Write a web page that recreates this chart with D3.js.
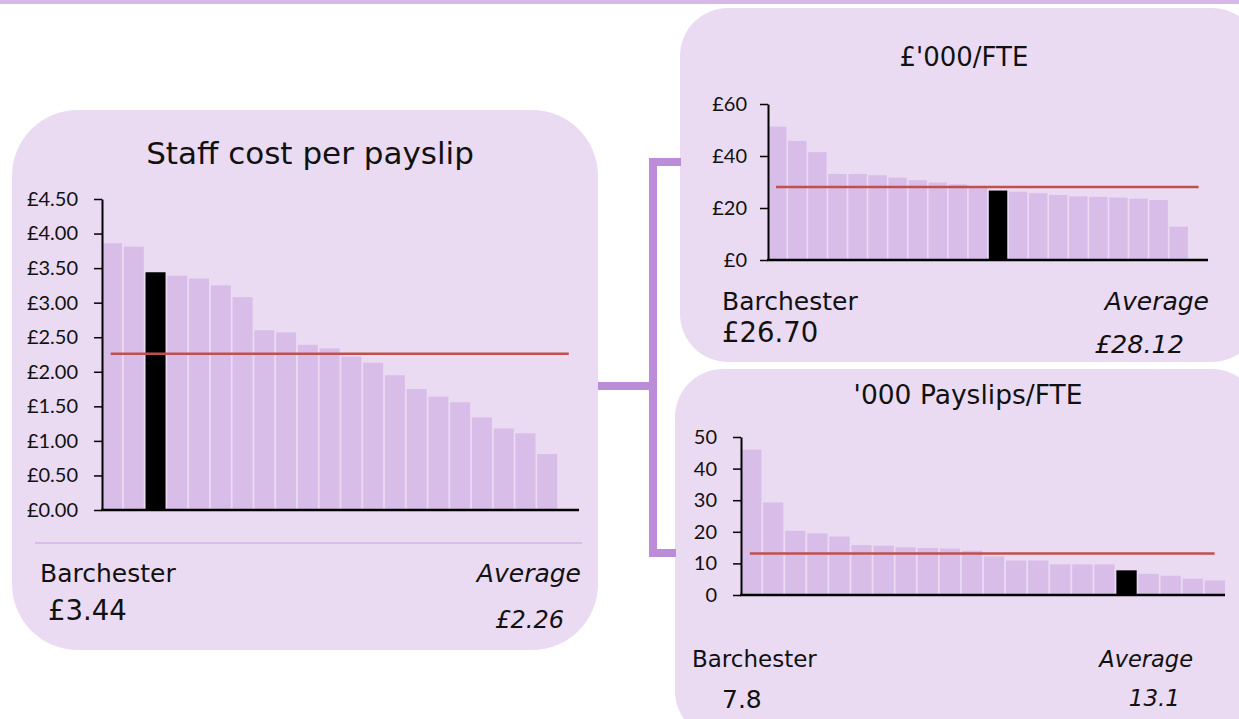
<!DOCTYPE html>
<html>
<head>
<meta charset="utf-8">
<script src="https://cdn.jsdelivr.net/npm/d3@7"></script>
<style>
  html, body { margin: 0; padding: 0; background: #ffffff; }
  svg { display: block; }
  .lbl { font-family: "DejaVu Sans", Verdana, sans-serif; fill: #111; }
</style>
</head>
<body>
<svg id="chart" width="1239" height="719"></svg>
<script>
// ---------- DATA ----------
const costTitle = "Staff cost per payslip";
const costValues = [3.86, 3.81, 3.44, 3.39, 3.35, 3.25, 3.08, 2.60, 2.57, 2.39, 2.34, 2.22, 2.13, 1.95, 1.75, 1.64, 1.56, 1.34, 1.18, 1.11, 0.81];
const costHighlight = 2;          // Barchester
const costAverage = 2.26;
const costTicks = [0, 0.5, 1, 1.5, 2, 2.5, 3, 3.5, 4, 4.5];
const costBarchesterLabel = "£3.44";
const costAverageLabel = "£2.26";

const fteTitle = "£'000/FTE";
const fteValues = [51.3, 45.8, 41.5, 33.1, 33.1, 32.6, 31.7, 30.7, 29.8, 29.1, 28.0, 26.7, 26.3, 25.7, 25.0, 24.5, 24.3, 24.0, 23.6, 23.1, 12.8];
const fteHighlight = 11;
const fteAverage = 28.12;
const fteTicks = [0, 20, 40, 60];
const fteBarchesterLabel = "£26.70";
const fteAverageLabel = "£28.12";

const payTitle = "'000 Payslips/FTE";
const payValues = [46.0, 29.3, 20.3, 19.5, 18.5, 15.8, 15.6, 15.1, 14.9, 14.7, 14.0, 12.2, 10.9, 10.9, 9.7, 9.7, 9.7, 7.8, 6.7, 6.1, 5.2, 4.6];
const payHighlight = 17;
const payAverage = 13.1;
const payTicks = [0, 10, 20, 30, 40, 50];
const payBarchesterLabel = "7.8";
const payAverageLabel = "13.1";

// ---------- STYLE ----------
const C = {
  panel: "#eadbf3",
  bar: "#d9bde9",
  highlight: "#000000",
  mean: "#c0504d",
  connector: "#bb8dd9",
  topBar: "#d6b8e8",
  sep: "#d4b2e6"
};

const svg = d3.select("#chart");

// top band
svg.append("rect").attr("x", 0).attr("y", 0).attr("width", 1239).attr("height", 4).attr("fill", C.topBar);

// panels
function panel(x, y, w, h, r) {
  svg.append("rect").attr("x", x).attr("y", y).attr("width", w).attr("height", h)
    .attr("rx", r).attr("ry", r).attr("fill", C.panel);
}
panel(12, 110, 586, 540, 66);
panel(680, 8, 580, 354, 48);
panel(675, 369, 585, 370, 48);

// connectors
const conn = svg.append("g").attr("stroke", C.connector).attr("stroke-width", 8).attr("fill", "none");
conn.append("path").attr("d", "M598,386 H657");
conn.append("path").attr("d", "M681,162 H653 V553 H676");

// ---------- chart builder ----------
function barChart(o) {
  const g = svg.append("g");
  const x = d3.scaleBand().domain(d3.range(o.slots)).range([o.x0, o.x1]).paddingInner(o.pad).paddingOuter(0);
  const y = d3.scaleLinear().domain([0, o.max]).range([o.yb, o.yt]);

  g.selectAll("rect.bar").data(o.values).join("rect")
    .attr("class", "bar")
    .attr("x", (d, i) => x(i))
    .attr("y", d => y(d))
    .attr("width", x.bandwidth())
    .attr("height", d => y(0) - y(d))
    .attr("fill", (d, i) => i === o.highlight ? C.highlight : C.bar);

  // mean line
  const step = x.step();
  g.append("line")
    .attr("x1", x(0) + step * 0.4).attr("x2", x(o.slots - 1) + step * 0.45)
    .attr("y1", y(o.avg)).attr("y2", y(o.avg))
    .attr("stroke", C.mean).attr("stroke-width", 2.5);

  // y axis
  const ya = g.append("g").attr("transform", `translate(${o.x0},0)`)
    .call(d3.axisLeft(y).tickValues(o.ticks).tickFormat(o.fmt).tickSize(8).tickSizeOuter(0));
  ya.attr("font-family", "Lato, 'Open Sans', sans-serif").attr("font-size", 20);
  ya.select(".domain").attr("stroke", "#000").attr("stroke-width", 2);
  ya.selectAll(".tick line").attr("stroke", "#000").attr("stroke-width", 1.5);
  ya.selectAll(".tick text").attr("x", -o.labelGap).attr("fill", "#111");

  // x axis line
  const xa = g.append("g").attr("transform", `translate(0,${o.yb})`)
    .call(d3.axisBottom(x).tickValues([]).tickSizeOuter(0));
  xa.select(".domain").attr("stroke", "#000").attr("stroke-width", 2.5)
    .attr("d", `M${o.x0 - 1},0H${o.x1}`);
  return g;
}

function text(x, y, s, size, opts = {}) {
  svg.append("text").attr("class", "lbl").attr("x", x).attr("y", y)
    .attr("font-size", size)
    .attr("text-anchor", opts.anchor || "start")
    .attr("font-style", opts.italic ? "italic" : "normal")
    .text(s);
}

// ---------- left chart ----------
text(310, 164, costTitle, 31, { anchor: "middle" });
barChart({
  values: costValues, highlight: costHighlight, avg: costAverage, slots: costValues.length + 1,
  x0: 102, x1: 579, yt: 199, yb: 510, max: 4.5, pad: 0.08,
  ticks: costTicks, fmt: d => "£" + d3.format(".2f")(d), labelGap: 24
});
svg.append("line").attr("x1", 35).attr("x2", 582).attr("y1", 543).attr("y2", 543)
  .attr("stroke", C.sep).attr("stroke-width", 1.5);
text(40, 582, "Barchester", 25);
text(48, 620, costBarchesterLabel, 27.5);
text(581, 582, "Average", 25, { anchor: "end", italic: true });
text(564, 628, costAverageLabel, 24, { anchor: "end", italic: true });

// ---------- top right chart ----------
text(964, 66, fteTitle, 26, { anchor: "middle" });
barChart({
  values: fteValues, highlight: fteHighlight, avg: fteAverage, slots: fteValues.length + 1,
  x0: 768, x1: 1208, yt: 104, yb: 260, max: 60, pad: 0.08,
  ticks: fteTicks, fmt: d => "£" + d, labelGap: 21
});
text(722, 310, "Barchester", 25);
text(722, 342, fteBarchesterLabel, 27.5);
text(1209, 310, "Average", 25, { anchor: "end", italic: true });
text(1184, 353, fteAverageLabel, 25.5, { anchor: "end", italic: true });

// ---------- bottom right chart ----------
text(968, 404, payTitle, 26.5, { anchor: "middle" });
barChart({
  values: payValues, highlight: payHighlight, avg: payAverage, slots: payValues.length,
  x0: 741, x1: 1225, yt: 437, yb: 595, max: 50, pad: 0.08,
  ticks: payTicks, fmt: d => d, labelGap: 24
});
text(692, 667, "Barchester", 23);
text(722, 708, payBarchesterLabel, 25);
text(1193, 667, "Average", 22.5, { anchor: "end", italic: true });
text(1180, 706, payAverageLabel, 23, { anchor: "end", italic: true });
</script>
</body>
</html>
